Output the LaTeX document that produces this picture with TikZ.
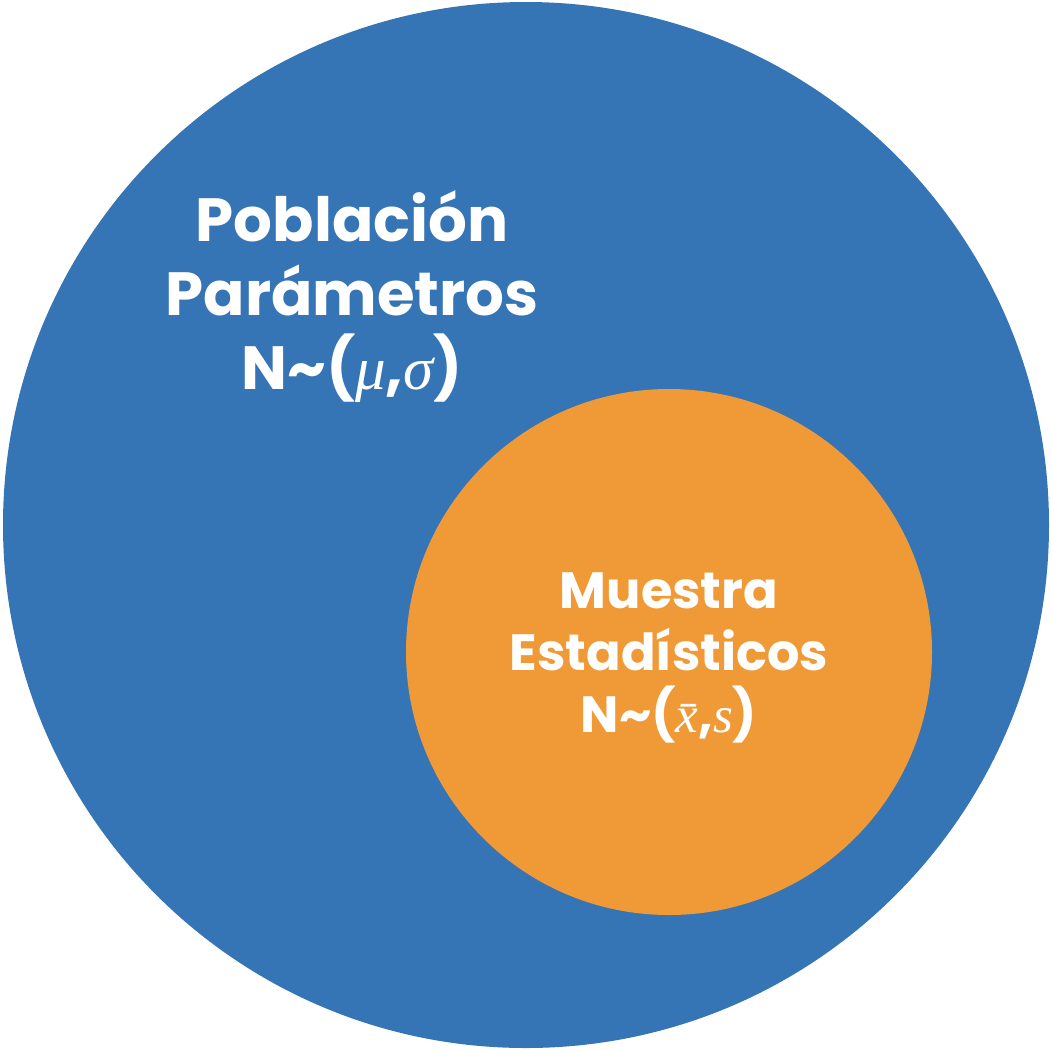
\documentclass[tikz,border=0pt]{standalone}
\usepackage{fontspec}
\setmainfont{Poppins}[BoldFont={* Bold}]
\newfontfamily\symbolserif{Liberation Serif}
\newcommand{\symit}[1]{{\symbolserif\itshape\mdseries #1}}
\usetikzlibrary{positioning}

\definecolor{poblacionblue}{HTML}{3574B5}
\definecolor{muestraorange}{HTML}{EF9A37}

\begin{document}
\begin{tikzpicture}[x=1pt, y=-1pt,
    label text/.style={text=white, align=center, inner sep=0pt}]

      % Fixed page size
      \useasboundingbox (0,0) rectangle (1052,1050);

      % Population and sample circles
      \fill[poblacionblue] (526,525) circle (523);
      \fill[muestraorange] (669,652) circle (263);

      % Labels
      \node[label text, font=\fontsize{61}{74}\selectfont\bfseries] (poblacion) at (352,297)
        {Población\\Parámetros\\N\char`\~(\symit{μ},\symit{σ})};
      \node[label text, font=\fontsize{51}{62}\selectfont\bfseries] (muestra) at (669,658)
        {Muestra\\Estadísticos\\N\char`\~(\symit{\={x}},\symit{s})};

    \end{tikzpicture}
\end{document}
